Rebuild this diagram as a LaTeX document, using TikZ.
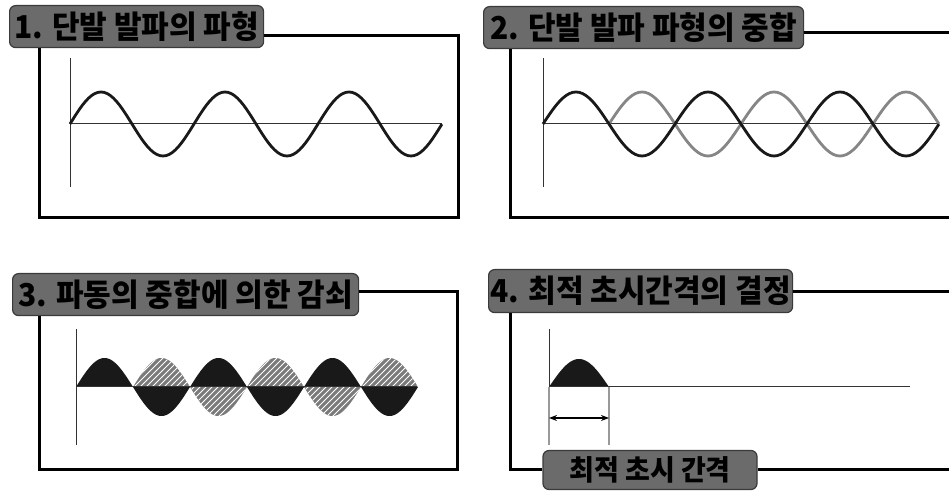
\documentclass[tikz,border=0pt]{standalone}
\usepackage{fontspec}
\newfontfamily\kr{Noto Sans CJK KR}
\usetikzlibrary{positioning, arrows.meta, patterns}
\definecolor{tagfill}{HTML}{6B6B6B}
\definecolor{tagline}{HTML}{3A3A3A}
\definecolor{hatchfill}{HTML}{7A7A7A}
\newcommand{\tagtext}[1]{\scalebox{1}[1.05]{#1}}

\begin{document}
\begin{tikzpicture}[x=0.5pt, y=-0.5pt,
    tag/.style={draw=tagline, fill=tagfill, rounded corners=3pt, line width=0.6pt,
        inner sep=0pt, anchor=north west, font=\fontsize{15}{16}\selectfont\kr\bfseries},
    frame/.style={line width=1.5pt},
    axis/.style={line width=0.5pt, black!80},
    wave/.style={line width=1.4pt, black!90},
    lobe/.style={fill=black!90},
    hatch/.style={fill=hatchfill, postaction={pattern=north east lines, pattern color=white}},
    dim/.style={line width=1pt, gray!80}
]
\useasboundingbox (0,0) rectangle (949,491);

% 1. 단발 발파의 파형
\node[tag, minimum width=127pt, minimum height=21pt] (t1) at (9,5) {\tagtext{1. 단발 발파의 파형}};
\draw[frame] (t1.east |- 0,36) -| (458,218) -| (t1.south -| 39,0);
\draw[axis] (70,58) -- (70,187);
\draw[axis] (70,124) -- (442,124);
\draw[wave] plot[domain=0:3, samples=121] ({70+124*\x}, {124-32*sin(360*\x)});

% 2. 단발 발파 파형의 중합
\node[tag, minimum width=160pt, minimum height=21pt] (t2) at (483,6) {\tagtext{2. 단발 발파 파형의 중합}};
\draw[frame] (t2.east |- 0,33) -- (949,33);
\draw[frame] (t2.south -| 510,0) |- (949,218);
\draw[axis] (543,58) -- (543,187);
\draw[axis] (543,124) -- (939,124);
\draw[wave, gray!95] plot[domain=0.5:3, samples=101] ({543+132*\x}, {124+32*sin(360*\x)});
\draw[wave] plot[domain=0:3, samples=121] ({543+132*\x}, {124-32*sin(360*\x)});

% 3. 파동의 중합에 의한 감쇠
\node[tag, minimum width=173pt, minimum height=21pt] (t3) at (12,273) {\tagtext{3. 파동의 중합에 의한 감쇠}};
\draw[frame] (t3.east |- 0,292) -| (457,470) -| (t3.south -| 39,0);
\draw[axis] (76,329) -- (76,445);
\foreach \k in {1,3,5}
    \fill[hatch] plot[domain=0:1, samples=40] ({76+57*(\k+\x)}, {387-29*sin(180*\x)}) -- cycle;
\foreach \k in {2,4}
    \fill[hatch] plot[domain=0:1, samples=40] ({76+57*(\k+\x)}, {387+29*sin(180*\x)}) -- cycle;
\foreach \k in {0,2,4}
    \fill[lobe] plot[domain=0:1, samples=40] ({76+57*(\k+\x)}, {387-29*sin(180*\x)}) -- cycle;
\foreach \k in {1,3,5}
    \fill[lobe] plot[domain=0:1, samples=40] ({76+57*(\k+\x)}, {387+29*sin(180*\x)}) -- cycle;
\draw[axis] (76,387) -- (417,387);

% 4. 최적 초시간격의 결정
\node[tag, minimum width=152pt, minimum height=21.5pt] (t4) at (488,269) {\tagtext{4. 최적 초시간격의 결정}};
\node[tag, anchor=center, minimum width=107pt, minimum height=19.5pt,
    font=\fontsize{13.5}{14}\selectfont\kr\bfseries] (t5) at (650,470) {\tagtext{최적 초시 간격}};
\draw[frame] (t4.east |- 0,292) -- (949,292);
\draw[frame] (t4.south -| 510,0) |- (t5.west);
\draw[frame] (t5.east) -- (949,470);
\fill[lobe] plot[domain=0:1, samples=40] ({549+60*\x}, {387-28*sin(180*\x)}) -- cycle;
\draw[axis] (549,329) -- (549,387);
\draw[axis] (549,387) -- (910,387);
\draw[dim] (549,387) -- (549,445);
\draw[dim] (609,387) -- (609,445);
\coordinate (d1) at (549,418);
\coordinate (d2) at (609,418);
\draw[<->, >={Stealth[length=4pt, width=3pt]}, line width=1pt] (d1) -- (d2);

\end{tikzpicture}
\end{document}
